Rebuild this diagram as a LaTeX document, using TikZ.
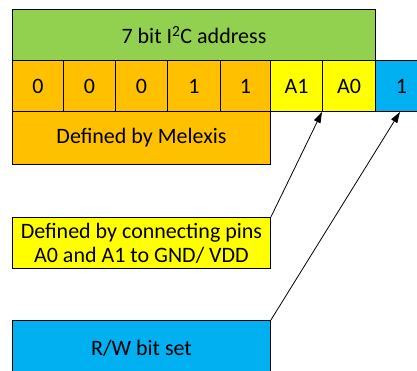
\documentclass[tikz,border=0pt]{standalone}
\usepackage{fontspec}
\setmainfont{Carlito}
\usetikzlibrary{arrows.meta}
\definecolor{cgreen}{HTML}{92D050}
\definecolor{corange}{HTML}{FFC000}
\definecolor{cyellow}{HTML}{FFFF00}
\definecolor{cblue}{HTML}{00B0F0}
\tikzset{
  box/.style={draw=black, line width=0.9pt, inner sep=0pt, anchor=north west, align=center, font=\fontsize{22}{24}\selectfont},
  conn/.style={line width=0.8pt, -{Triangle[length=11pt,width=7pt]}}
}
\begin{document}
\begin{tikzpicture}[x=1pt,y=-1pt]
\useasboundingbox (0,0) rectangle (417,370);
\clip (0,0) rectangle (417,370);
\node[box, fill=cgreen, minimum width=363pt, minimum height=51pt] (addr) at (12,9) {7 bit I\textsuperscript{2}C address};
\node[box, fill=corange, minimum width=51pt, minimum height=51pt] (b7) at (12,60) {0};
\node[box, fill=corange, minimum width=52pt, minimum height=51pt] (b6) at (63,60) {0};
\node[box, fill=corange, minimum width=52pt, minimum height=51pt] (b5) at (115,60) {0};
\node[box, fill=corange, minimum width=53pt, minimum height=51pt] (b4) at (167,60) {1};
\node[box, fill=corange, minimum width=50pt, minimum height=51pt] (b3) at (220,60) {1};
\node[box, fill=cyellow, minimum width=52pt, minimum height=51pt] (b2) at (270,60) {A1};
\node[box, fill=cyellow, minimum width=53pt, minimum height=51pt] (b1) at (322,60) {A0};
\node[box, fill=cblue, minimum width=52pt, minimum height=51pt] (b0) at (375,60) {1};
\node[box, fill=corange, minimum width=258pt, minimum height=53pt] (mlx) at (12,111) {Defined by Melexis};
\node[box, fill=cyellow, minimum width=258pt, minimum height=51pt] (pins) at (12,217) {Defined by connecting pins\\A0 and A1 to GND/ VDD};
\node[box, fill=cblue, minimum width=258pt, minimum height=55pt] (rw) at (12,320) {R/W bit set};
\draw[conn] (pins.north east) -- (b1.south west);
\draw[conn] (rw.north east) -- ([xshift=25pt]b0.south west);
\end{tikzpicture}
\end{document}
